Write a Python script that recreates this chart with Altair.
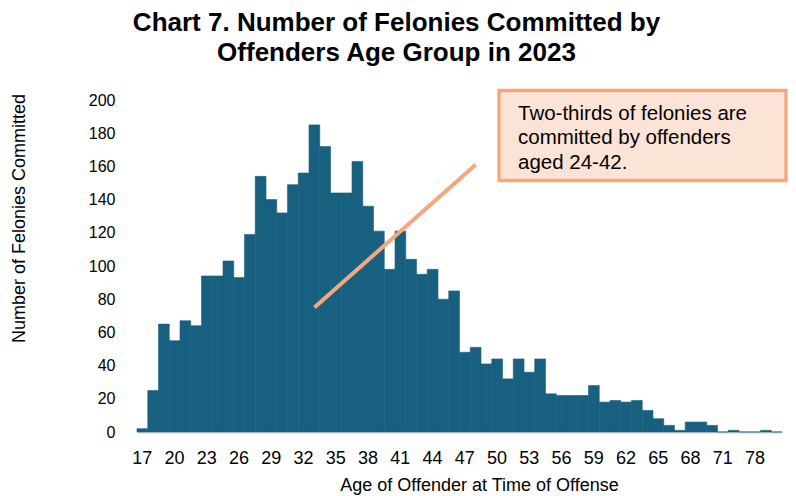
import altair as alt
import pandas as pd

ages = [str(a) for a in range(17, 72)] + ["73", "75", "78", "80", "82"]
counts = [2, 25, 65, 55, 67, 64, 94, 94, 103, 93,
          119, 154, 140, 132, 149, 156, 185, 172, 144, 144,
          163, 136, 121, 98, 121, 104, 95, 98, 80, 85,
          48, 51, 41, 44, 32, 44, 36, 44, 23, 22,
          22, 22, 28, 18, 19, 18, 19, 13, 8, 4,
          1, 6, 6, 4, 0, 1, 0, 0, 1, 0]
tick_labels = ["17", "20", "23", "26", "29", "32", "35", "38", "41", "44",
               "47", "50", "53", "56", "59", "62", "65", "68", "71", "78"]
y_ticks = list(range(0, 201, 20))

line_ages = ["33", "48"]
line_counts = [75, 161]

note_lines = ["Two-thirds of felonies are", "committed by offenders", "aged 24-42."]

FONT = "Liberation Sans"
BAR = "#17607F"
ORANGE = "#F4A77E"

df = pd.DataFrame({"age": ages, "count": counts})
ldf = pd.DataFrame({"age": line_ages, "count": line_counts})

x_enc = alt.X("age:N", sort=ages,
              scale=alt.Scale(domain=ages, paddingInner=0, paddingOuter=0),
              axis=alt.Axis(values=tick_labels, labelAngle=0, labelFontSize=18,
                            labelFont=FONT, labelColor="#000000", labelPadding=17,
                            labelOverlap=False, grid=False,
                            ticks=False, domainColor="#D9D9D9", domainWidth=2,
                            title="Age of Offender at Time of Offense",
                            titleFont=FONT, titleFontSize=18, titleFontWeight="normal",
                            titleColor="#000000", titleX=342, titleY=53,
                            titleBaseline="middle", titleAlign="center"))
y_enc = alt.Y("count:Q",
              scale=alt.Scale(domain=[0, 200], nice=False),
              axis=alt.Axis(values=y_ticks, labelFontSize=16, labelFont=FONT,
                            labelColor="#000000", labelPadding=22, ticks=False,
                            labelOverlap=False, labelSeparation=0,
                            domain=False, grid=False,
                            title="Number of Felonies Committed",
                            titleFont=FONT, titleFontSize=18, titleFontWeight="normal",
                            titleColor="#000000", titleX=-118, titleY=118,
                            titleAngle=-90, titleBaseline="middle", titleAlign="center"))

bars = alt.Chart(df).mark_bar(color=BAR, stroke=BAR, strokeWidth=0.6).encode(x=x_enc, y=y_enc)

line = alt.Chart(ldf).mark_line(color=ORANGE, strokeWidth=4, strokeCap="butt").encode(
    x=x_enc, y=y_enc)

box = alt.Chart(pd.DataFrame({"k": [0]})).mark_rect(
    fill="#FBE3D6", stroke=ORANGE, strokeWidth=3.3).encode(
    x=alt.value(362), x2=alt.value(649), y=alt.value(-9.5), y2=alt.value(80.5))

note = alt.Chart(pd.DataFrame({"k": [0]})).mark_text(
    text=note_lines, align="left", baseline="middle", font=FONT, fontSize=20.5,
    lineHeight=24.5, color="#000000").encode(x=alt.value(381), y=alt.value(13.5))

chart = alt.layer(bars, line, box, note).properties(
    width=645, height=332,
    background="white",
    title=alt.TitleParams(
        text=["Chart 7. Number of Felonies Committed by", "Offenders Age Group in 2023"],
        font=FONT, fontSize=26, fontWeight="bold", color="#000000",
        anchor="middle", dx=-63, offset=23, lineHeight=30),
    autosize=alt.AutoSizeParams(type="none"),
    padding={"left": 129, "top": 92, "right": 6, "bottom": 64},
).configure_view(strokeWidth=0)

chart.save("out.html", embed_options={"renderer": "svg", "actions": False})
